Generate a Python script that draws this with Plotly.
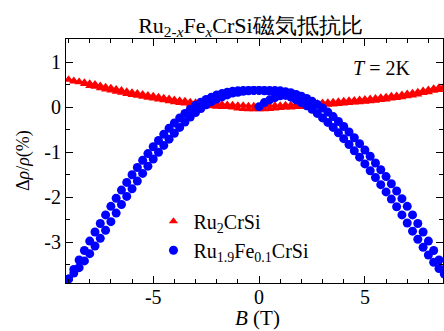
import plotly.graph_objects as go

# Magnetic field sweep (T)
B_FIELD = [-9.0, -8.75, -8.5, -8.25, -8.0, -7.75, -7.5, -7.25, -7.0, -6.75, -6.5, -6.25,
           -6.0, -5.75, -5.5, -5.25, -5.0, -4.75, -4.5, -4.25, -4.0, -3.75, -3.5, -3.25,
           -3.0, -2.75, -2.5, -2.25, -2.0, -1.75, -1.5, -1.25, -1.0, -0.75, -0.5, -0.25, 0.0,
           0.25, 0.5, 0.75, 1.0, 1.25, 1.5, 1.75, 2.0, 2.25, 2.5, 2.75, 3.0, 3.25, 3.5, 3.75,
           4.0, 4.25, 4.5, 4.75, 5.0, 5.25, 5.5, 5.75, 6.0, 6.25, 6.5, 6.75, 7.0, 7.25, 7.5,
           7.75, 8.0, 8.25, 8.5, 8.75, 9.0]

# Ru2CrSi, two sweep branches (%)
RU2CRSI_UPPER = [0.61, 0.59, 0.57, 0.55, 0.53, 0.51, 0.48, 0.45, 0.43, 0.40, 0.38, 0.35,
                 0.33, 0.31, 0.29, 0.27, 0.25, 0.23, 0.21, 0.19, 0.17, 0.15, 0.14, 0.12,
                 0.11, 0.10, 0.09, 0.08, 0.07, 0.07, 0.06, 0.05, 0.04, 0.04, 0.03, 0.03, 0.02,
                 0.03, 0.03, 0.04, 0.04, 0.05, 0.05, 0.06, 0.06, 0.07, 0.08, 0.09, 0.10, 0.11,
                 0.12, 0.13, 0.14, 0.15, 0.16, 0.17, 0.18, 0.19, 0.20, 0.22, 0.23, 0.25, 0.26,
                 0.28, 0.30, 0.32, 0.34, 0.37, 0.39, 0.42, 0.44, 0.47, 0.50]
RU2CRSI_LOWER = [0.61, 0.57, 0.55, 0.51, 0.47, 0.45, 0.42, 0.39, 0.37, 0.34, 0.32, 0.29,
                 0.27, 0.25, 0.23, 0.21, 0.19, 0.17, 0.15, 0.13, 0.11, 0.09, 0.08, 0.06,
                 0.05, 0.04, 0.03, 0.02, 0.01, 0.00, 0.00, -0.01, -0.03, -0.04, -0.05, -0.05, -0.05,
                 -0.05, -0.04, -0.03, -0.02, -0.01, -0.01, 0.00, 0.00, 0.01, 0.02, 0.03, 0.04, 0.05,
                 0.06, 0.07, 0.08, 0.09, 0.10, 0.11, 0.12, 0.13, 0.14, 0.16, 0.17, 0.19, 0.20,
                 0.22, 0.24, 0.26, 0.28, 0.31, 0.33, 0.36, 0.38, 0.41, 0.44]

# Ru1.9Fe0.1CrSi, two sweep branches (%)
RUFE_BRANCH_L = [-3.81, -3.60, -3.39, -3.18, -2.97, -2.77, -2.58, -2.39, -2.20, -2.02, -1.84, -1.67,
                 -1.50, -1.34, -1.18, -1.03, -0.88, -0.74, -0.60, -0.47, -0.35, -0.24, -0.14, -0.05,
                 0.04, 0.11, 0.17, 0.22, 0.27, 0.30, 0.33, 0.35, 0.36, 0.37, 0.37, 0.37,
                 0.37, 0.36, 0.35, 0.33, 0.30, 0.26, 0.22, 0.16, 0.10, 0.03, -0.05, -0.14, -0.24,
                 -0.34, -0.45, -0.57, -0.70, -0.83, -0.97, -1.11, -1.26, -1.41, -1.56, -1.72, -1.88,
                 -2.04, -2.21, -2.39, -2.57, -2.75, -2.93, -3.11, -3.28, -3.44, -3.58, -3.70, -3.81]
RUFE_BRANCH_R = [-3.81, -3.68, -3.56, -3.41, -3.25, -3.08, -2.91, -2.73, -2.54, -2.35, -2.16, -1.98,
                 -1.81, -1.64, -1.47, -1.31, -1.15, -1.00, -0.85, -0.71, -0.58, -0.45, -0.33, -0.22,
                 -0.12, -0.03, 0.05, 0.12, 0.18, 0.23, 0.27, 0.31, 0.33, 0.35, 0.36, 0.37, 0.37,
                 0.37, 0.37, 0.37, 0.36, 0.34, 0.32, 0.28, 0.24, 0.19, 0.13, 0.06, -0.02, -0.11,
                 -0.21, -0.32, -0.43, -0.55, -0.68, -0.81, -0.95, -1.09, -1.24, -1.39, -1.54, -1.70,
                 -1.86, -2.03, -2.20, -2.39, -2.58, -2.77, -2.97, -3.18, -3.39, -3.60, -3.81]
# initial (virgin) sweep from zero field
VIRGIN_B = [0.0, 0.25, 0.5, 0.75, 1.0, 1.25, 1.5]
VIRGIN_V = [0.01, 0.10, 0.16, 0.21, 0.25, 0.28, 0.30]

X_TICKS = [-5, 0, 5]
X_TICK_TEXT = ["-5", "0", "5"]
Y_TICKS = [-3, -2, -1, 0, 1]
Y_TICK_TEXT = ["-3", "-2", "-1", "0", "1"]

SERIF = "'Liberation Serif', 'DejaVu Serif', serif"
RED = "#ff0000"
BLUE = "#0000ff"

fig = go.Figure()
fig.add_trace(go.Scatter(x=B_FIELD, y=RU2CRSI_UPPER, mode="markers", name="Ru<sub>2</sub>CrSi",
                         legendgroup="a",
                         marker=dict(symbol="triangle-up", size=8, color=RED)))
fig.add_trace(go.Scatter(x=B_FIELD, y=RU2CRSI_LOWER, mode="markers", showlegend=False,
                         legendgroup="a",
                         marker=dict(symbol="triangle-up", size=8, color=RED)))
fig.add_trace(go.Scatter(x=B_FIELD, y=RUFE_BRANCH_L, mode="markers",
                         name="Ru<sub>1.9</sub>Fe<sub>0.1</sub>CrSi", legendgroup="b",
                         marker=dict(symbol="circle", size=9, color=BLUE)))
fig.add_trace(go.Scatter(x=B_FIELD, y=RUFE_BRANCH_R, mode="markers", showlegend=False,
                         legendgroup="b", marker=dict(symbol="circle", size=9, color=BLUE)))
fig.add_trace(go.Scatter(x=VIRGIN_B, y=VIRGIN_V, mode="markers", showlegend=False,
                         legendgroup="b", marker=dict(symbol="circle", size=9, color=BLUE)))

axis_common = dict(showline=True, linecolor="black", linewidth=1, mirror="ticks",
                   ticks="inside", ticklen=7, tickwidth=1, tickcolor="black",
                   showgrid=False, zeroline=False,
                   tickfont=dict(family=SERIF, size=20, color="black"))

fig.update_xaxes(range=[-9.12, 8.69], tickmode="array", tickvals=X_TICKS, ticktext=X_TICK_TEXT,
                 ticklabelstandoff=-4,
                 minor=dict(dtick=1, tick0=0, ticks="inside", ticklen=4, tickcolor="black"),
                 **axis_common)
fig.update_yaxes(range=[-3.90, 1.51], tickmode="array", tickvals=Y_TICKS, ticktext=Y_TICK_TEXT,
                 minor=dict(dtick=0.5, tick0=0, ticks="inside", ticklen=4, tickcolor="black"),
                 **axis_common)

fig.update_layout(
    width=444, height=331,
    margin=dict(l=66, r=1, t=39, b=48),
    paper_bgcolor="white", plot_bgcolor="white",
    font=dict(family=SERIF, size=20, color="black"),
    title=dict(text="Ru<sub>2-<i>x</i></sub>Fe<sub><i>x</i></sub>CrSi磁気抵抗比",
               x=0.564, xanchor="center", y=0.925, yanchor="middle",
               font=dict(family=SERIF, size=22, color="black")),
    showlegend=True,
    legend=dict(x=0.232, y=0.333, xanchor="left", yanchor="top", bgcolor="rgba(0,0,0,0)",
                font=dict(family=SERIF, size=20, color="black"), itemwidth=30,
                tracegroupgap=0),
    annotations=[
        dict(text="<i>T</i> = 2K", xref="paper", yref="paper", x=0.836, y=0.881,
             xanchor="center", yanchor="middle", showarrow=False,
             font=dict(family=SERIF, size=20, color="black")),
        dict(text="Δ<i>ρ</i>/<i>ρ</i>(%)", xref="paper", yref="paper", x=-0.114, y=0.5,
             xanchor="center", yanchor="middle", textangle=-90, showarrow=False,
             font=dict(family=SERIF, size=18, color="black")),
        dict(text="<i>B</i> (T)", xref="paper", yref="paper", x=0.509, y=-0.145,
             xanchor="center", yanchor="middle", showarrow=False,
             font=dict(family=SERIF, size=21, color="black")),
    ],
)

fig.write_html("out.html")
